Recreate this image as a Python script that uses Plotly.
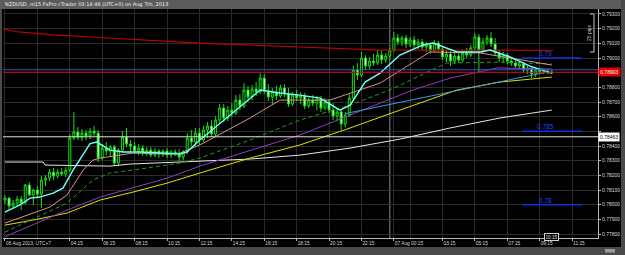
import plotly.graph_objects as go

# ---------------- data: NZDUSD m15 bars, index 0 = 06 Aug 00:15 (UTC+7) ----------------
open_ = [0.78032,0.78045,0.77991,0.78011,0.78038,0.78011,0.78134,0.78066,0.78100,0.78072,
         0.78168,0.78181,0.78222,0.78195,0.78222,0.78209,0.78236,0.78454,0.78495,0.78461,
         0.78488,0.78468,0.78502,0.78488,0.78318,0.78386,0.78366,0.78393,0.78284,0.78372,
         0.78461,0.78413,0.78400,0.78366,0.78386,0.78359,0.78372,0.78338,0.78366,0.78345,
         0.78366,0.78338,0.78359,0.78345,0.78325,0.78359,0.78454,0.78427,0.78488,0.78441,
         0.78509,0.78536,0.78482,0.78577,0.78659,0.78591,0.78645,0.78625,0.78713,0.78673,
         0.78782,0.78734,0.78788,0.78768,0.78863,0.78775,0.78734,0.78768,0.78741,0.78795,
         0.78754,0.78686,0.78747,0.78727,0.78741,0.78673,0.78713,0.78693,0.78720,0.78659,
         0.78700,0.78645,0.78604,0.78632,0.78550,0.78611,0.78727,0.78918,0.78884,0.79000,
         0.78945,0.78979,0.78966,0.79020,0.78986,0.79013,0.79054,0.79136,0.79109,0.79136,
         0.79095,0.79123,0.79089,0.79109,0.79075,0.79089,0.79054,0.79102,0.79061,0.79007,
         0.79027,0.78979,0.79013,0.78986,0.79034,0.79020,0.79068,0.79143,0.79054,0.79109,
         0.79136,0.79095,0.79034,0.79000,0.79020,0.78979,0.78966,0.78945,0.78959,0.78918,
         0.78932,0.78891,0.78918,0.78904,0.78911,0.78897]
high = [0.78066,0.78052,0.78032,0.78059,0.78059,0.78141,0.78154,0.78107,0.78127,0.78195,
        0.78202,0.78243,0.78250,0.78243,0.78250,0.78256,0.78482,0.78632,0.78529,0.78516,
        0.78509,0.78523,0.78536,0.78509,0.78413,0.78427,0.78407,0.78407,0.78386,0.78502,
        0.78523,0.78441,0.78427,0.78413,0.78407,0.78393,0.78393,0.78386,0.78379,0.78379,
        0.78386,0.78372,0.78379,0.78379,0.78372,0.78488,0.78509,0.78523,0.78523,0.78536,
        0.78563,0.78577,0.78604,0.78686,0.78686,0.78673,0.78693,0.78747,0.78754,0.78829,
        0.78809,0.78816,0.78836,0.78897,0.78891,0.78822,0.78795,0.78809,0.78816,0.78822,
        0.78795,0.78768,0.78782,0.78768,0.78761,0.78734,0.78747,0.78741,0.78741,0.78727,
        0.78720,0.78693,0.78659,0.78645,0.78632,0.78754,0.78945,0.78966,0.79041,0.79020,
        0.79007,0.79027,0.79054,0.79054,0.79034,0.79068,0.79177,0.79164,0.79150,0.79157,
        0.79143,0.79150,0.79130,0.79130,0.79109,0.79102,0.79123,0.79116,0.79082,0.79054,
        0.79047,0.79034,0.79041,0.79054,0.79068,0.79089,0.79170,0.79164,0.79136,0.79157,
        0.79177,0.79136,0.79054,0.79041,0.79034,0.79007,0.78993,0.78979,0.78972,0.78945,
        0.78945,0.78932,0.78932,0.78925,0.78925,0.78918]
low = [0.78004,0.77963,0.77977,0.77991,0.77963,0.78004,0.78059,0.77998,0.78045,0.77977,
       0.78127,0.78161,0.78168,0.78181,0.78195,0.78188,0.78222,0.78441,0.78441,0.78434,
       0.78441,0.78447,0.78468,0.78291,0.78304,0.78338,0.78325,0.78263,0.78263,0.78359,
       0.78393,0.78359,0.78345,0.78338,0.78332,0.78332,0.78325,0.78325,0.78318,0.78325,
       0.78318,0.78318,0.78332,0.78297,0.78304,0.78345,0.78400,0.78400,0.78407,0.78427,
       0.78454,0.78461,0.78468,0.78557,0.78563,0.78570,0.78598,0.78611,0.78645,0.78659,
       0.78700,0.78713,0.78741,0.78754,0.78754,0.78707,0.78686,0.78713,0.78727,0.78734,
       0.78666,0.78673,0.78707,0.78686,0.78652,0.78659,0.78673,0.78645,0.78632,0.78645,
       0.78625,0.78577,0.78570,0.78509,0.78529,0.78598,0.78707,0.78850,0.78870,0.78918,
       0.78925,0.78945,0.78952,0.78959,0.78966,0.78986,0.79041,0.79089,0.79082,0.79068,
       0.79075,0.79068,0.79061,0.79054,0.79041,0.79027,0.79041,0.79047,0.78986,0.78972,
       0.78945,0.78959,0.78966,0.78972,0.79000,0.79007,0.79054,0.78904,0.79034,0.79089,
       0.79075,0.79013,0.78972,0.78966,0.78959,0.78945,0.78932,0.78925,0.78904,0.78891,
       0.78863,0.78870,0.78891,0.78891,0.78891,0.78891]
close = [0.78045,0.77991,0.78011,0.78038,0.78011,0.78134,0.78066,0.78100,0.78072,0.78168,
         0.78181,0.78222,0.78195,0.78222,0.78209,0.78236,0.78454,0.78495,0.78461,0.78488,
         0.78468,0.78502,0.78488,0.78318,0.78386,0.78366,0.78393,0.78284,0.78372,0.78461,
         0.78413,0.78400,0.78366,0.78386,0.78359,0.78372,0.78338,0.78366,0.78345,0.78366,
         0.78338,0.78359,0.78345,0.78325,0.78359,0.78454,0.78427,0.78488,0.78441,0.78509,
         0.78536,0.78482,0.78577,0.78659,0.78591,0.78645,0.78625,0.78713,0.78673,0.78782,
         0.78734,0.78788,0.78768,0.78863,0.78775,0.78734,0.78768,0.78741,0.78795,0.78754,
         0.78686,0.78747,0.78727,0.78741,0.78673,0.78713,0.78693,0.78720,0.78659,0.78700,
         0.78645,0.78604,0.78632,0.78550,0.78611,0.78727,0.78918,0.78884,0.79000,0.78945,
         0.78979,0.78966,0.79020,0.78986,0.79013,0.79054,0.79136,0.79109,0.79136,0.79095,
         0.79123,0.79089,0.79109,0.79075,0.79089,0.79054,0.79102,0.79061,0.79007,0.79027,
         0.78979,0.79013,0.78986,0.79034,0.79020,0.79068,0.79143,0.79054,0.79109,0.79136,
         0.79095,0.79034,0.79000,0.79020,0.78979,0.78966,0.78945,0.78959,0.78918,0.78932,
         0.78891,0.78918,0.78904,0.78911,0.78897,0.78903]
bars = list(range(len(close)))

# moving averages, read at sample bars
cyan_x = [0, 3.7, 6.2, 8.6, 11.9, 14.3, 16.8, 21, 22.7, 25.9, 29.1, 33.3, 38.3, 43.2, 44.9,
          48.1, 55.6, 63, 67.9, 72.8, 77.8, 82.7, 85.2, 88.9, 92.6, 97.5, 103.2, 105.7, 111.6,
          117.3, 119.8, 124.7, 129.6, 133.8, 135]
cyan = [0.77950,0.77998,0.78045,0.78052,0.78079,0.78113,0.78236,0.78416,0.78427,0.78372,
        0.78359,0.78359,0.78352,0.78345,0.78359,0.78441,0.78611,0.78782,0.78761,0.78747,
        0.78727,0.78645,0.78679,0.78836,0.78897,0.79020,0.79089,0.79102,0.79041,0.79041,
        0.79054,0.79007,0.78945,0.78904,0.78897]
pink_x = [0, 6.9, 11.1, 15.3, 19.3, 21.7, 23.5, 31.6, 40, 43.2, 48.1, 60.5, 67.9, 80.2, 92.6,
          104.9, 117.3, 135]
pink = [0.77875,0.77943,0.77984,0.78066,0.78236,0.78304,0.78318,0.78352,0.78345,0.78352,
        0.78407,0.78591,0.78713,0.78713,0.78829,0.79041,0.79034,0.78952]
green_x = [0, 6.2, 15.3, 21.7, 25.9, 31.6, 36.5, 43.2, 48.1, 60.5, 72.8, 85.2, 95, 109, 122.2, 135]
green = [0.77813,0.77895,0.78011,0.78168,0.78216,0.78236,0.78256,0.78284,0.78318,0.78441,
         0.78577,0.78679,0.78782,0.78966,0.78972,0.78959]
purple_x = [0, 3.7, 15.3, 23.5, 31.6, 40, 48.1, 60.5, 72.8, 85.2, 100.7, 109.9, 121.5, 135]
purple = [0.77782,0.77827,0.77963,0.78052,0.78113,0.78181,0.78263,0.78372,0.78475,0.78611,
          0.78782,0.78863,0.78932,0.78925]
yellow_x = [0, 6.9, 15.3, 23.5, 31.6, 40, 48.1, 60.5, 72.8, 85.2, 97.5, 111.6, 122.2, 135]
yellow = [0.77861,0.77895,0.77943,0.78032,0.78086,0.78147,0.78216,0.78318,0.78407,0.78523,
          0.78645,0.78782,0.78836,0.78870]
white_x = [0, 9.4, 9.9, 25.9, 30.9, 48.1, 60.5, 72.8, 85.2, 97.5, 109.9, 122.2, 135]
white = [0.78291,0.78291,0.78270,0.78263,0.78277,0.78297,0.78311,0.78338,0.78386,0.78447,
         0.78523,0.78591,0.78645]
red_x = [-0.5, 3, 6.9, 11.9, 21, 31.6, 48.1, 72.8, 92.6, 121, 135.3]
red = [0.79198,0.79179,0.79170,0.79157,0.79143,0.79126,0.79102,0.79075,0.79054,0.79054,0.79051]
trend_x = [84, 133.8]
trend = [0.78621, 0.78904]

bid_price = 0.78903
ask_line = 0.78920
white_level = 0.78463
fib_levels = [0.79000, 0.78500, 0.78000]
fib_labels = ["0.79", "0.785", "0.78"]

price_ticks = [round(0.778 + 0.001 * k, 3) for k in range(16)]
price_text = ["" if v in (0.789, 0.785) else "%.5f" % v for v in price_ticks]
time_ticks = [0, 16, 24, 32, 40, 48, 56, 64, 72, 80, 88, 96, 108, 116, 124, 132, 140]
time_text = ["06 Aug 2013, UTC+7", "04:15", "06:15", "08:15", "10:15", "12:15", "14:15",
             "16:15", "18:15", "20:15", "22:15", "07 Aug 00:15", "03:15", "05:15",
             "07:15", "09:15", "11:15"]
minor_ticks = [8, 100]

# ---------------- figure ----------------
W, H = 625, 255
L, R, T, B = 3, 27, 9, 17
pw, ph = W - L - R, H - T - B
def px(x):
    return (x - L) / pw
def py(y):
    return (H - B - y) / ph

FONT = "Liberation Sans"
fig = go.Figure()

def line(x, y, color, dash="solid", width=1.0):
    fig.add_trace(go.Scatter(x=x, y=y, mode="lines", line=dict(color=color, width=width, dash=dash),
                             showlegend=False, hoverinfo="skip"))

line(red_x, red, "#c00000", width=1.2)
line(white_x, white, "#e6e6e6")
line(yellow_x, yellow, "#e0e000")
line(purple_x, purple, "#8b3fc0")
line(green_x, green, "#1ea01e", dash="4px,3px")
line(trend_x, trend, "#3b9be0")
line(pink_x, pink, "#d8918a")

fig.add_trace(go.Candlestick(
    x=bars, open=open_, high=high, low=low, close=close,
    increasing=dict(line=dict(color="#10e010", width=1), fillcolor="#000000"),
    decreasing=dict(line=dict(color="#10e010", width=1), fillcolor="#ffffff"),
    whiskerwidth=0, showlegend=False, hoverinfo="skip"))

line(cyan_x, cyan, "#70ffff", width=1.4)

shapes = []
shapes.append(dict(type="line", xref="x", x0=95, x1=95, yref="paper", y0=0, y1=1,
                   line=dict(color="#8a8a8a", width=1), layer="below"))
shapes.append(dict(type="line", xref="paper", x0=0, x1=1, yref="y", y0=ask_line, y1=ask_line,
                   line=dict(color="#1e5fd0", width=1.2)))
shapes.append(dict(type="line", xref="paper", x0=0, x1=1, yref="y", y0=bid_price, y1=bid_price,
                   line=dict(color="#e00000", width=1.2)))
shapes.append(dict(type="line", xref="paper", x0=0, x1=1, yref="y", y0=white_level, y1=white_level,
                   line=dict(color="#e0e0e0", width=1)))
for lv in fib_levels:
    shapes.append(dict(type="line", xref="x", x0=127.7, x1=142.5, yref="y", y0=lv, y1=lv,
                       line=dict(color="#1030e0", width=1.5)))
# pip ruler
shapes.append(dict(type="path", xref="paper", yref="paper",
                   path="M %f %f L %f %f L %f %f L %f %f" % (px(590), py(14), px(594), py(14),
                                                           px(594), py(52), px(590), py(52)),
                   line=dict(color="#c8c8c8", width=1)))
# frame
shapes.append(dict(type="rect", xref="paper", yref="paper", x0=px(0), x1=px(W), y0=py(0), y1=py(9),
                   fillcolor="#5c5c5c", line=dict(width=0), layer="above"))
shapes.append(dict(type="rect", xref="paper", yref="paper", x0=px(0), x1=px(W), y0=py(247), y1=py(H),
                   fillcolor="#4a4a4a", line=dict(width=0), layer="above"))
shapes.append(dict(type="rect", xref="paper", yref="paper", x0=px(621), x1=px(W), y0=py(0), y1=py(H),
                   fillcolor="#4a4a4a", line=dict(width=0), layer="above"))
shapes.append(dict(type="rect", xref="paper", yref="paper", x0=px(0), x1=px(2), y0=py(9), y1=py(H),
                   fillcolor="#4a4a4a", line=dict(width=0), layer="above"))
shapes.append(dict(type="rect", xref="paper", yref="paper", x0=px(605), x1=px(615), y0=py(249), y1=py(252.5),
                   fillcolor="#9a9a9a", line=dict(width=0), layer="above"))

ann = []
ann.append(dict(text="NZDUSD, m15 FxPro cTrader 03:14:46 (UTC+0) on Aug 7th, 2013",
                xref="paper", yref="paper", x=px(3), y=py(4.5), xanchor="left", yanchor="middle",
                showarrow=False, font=dict(size=5.0, color="#f0f0f0", family="DejaVu Sans")))
ann.append(dict(text="0.78903", xref="paper", yref="y", x=1.0, y=bid_price, xanchor="left",
                yanchor="middle", showarrow=False, bgcolor="#e80000",
                font=dict(size=5, color="#ffffff", family=FONT), borderpad=1.2))
ann.append(dict(text="0.78463", xref="paper", yref="y", x=1.0, y=white_level, xanchor="left",
                yanchor="middle", showarrow=False, bgcolor="#ffffff",
                font=dict(size=5, color="#000000", family=FONT), borderpad=1))
for lv, lab in zip(fib_levels, fib_labels):
    ann.append(dict(text=lab, xref="x", yref="y", x=133.5, y=lv, xanchor="center", yanchor="bottom",
                    showarrow=False, font=dict(size=6.5, color="#2040ff", family=FONT), yshift=-1))
ann.append(dict(text="25 pips", xref="paper", yref="paper", x=px(589), y=py(33), textangle=-90,
                xanchor="center", yanchor="middle", showarrow=False,
                font=dict(size=5, color="#c8c8c8", family=FONT)))
ann.append(dict(text="10:15", xref="x", yref="paper", x=135, y=py(236.5), xanchor="center",
                yanchor="middle", showarrow=False, bgcolor="#000000", bordercolor="#d0d0d0",
                borderwidth=1, borderpad=0.5, font=dict(size=4.6, color="#e0e0e0", family=FONT)))

fig.update_layout(
    width=W, height=H, margin=dict(l=L, r=R, t=T, b=B, pad=0),
    paper_bgcolor="#000000", plot_bgcolor="#000000",
    shapes=shapes, annotations=ann,
    xaxis=dict(range=[-0.49, 146.4], tickvals=time_ticks, ticktext=time_text, tickangle=0,
               ticklabelposition="outside right",
               showgrid=True, gridcolor="#2b2b2b", gridwidth=1, zeroline=False,
               minor=dict(tickvals=minor_ticks, showgrid=True, gridcolor="#2b2b2b"),
               showline=True, linecolor="#b8b8b8", ticks="outside", ticklen=2, tickcolor="#b8b8b8",
               tickfont=dict(size=4.8, color="#d8d8d8", family=FONT),
               rangeslider=dict(visible=False), fixedrange=True),
    yaxis=dict(range=[0.77773, 0.79334], side="right", tickvals=price_ticks, ticktext=price_text,
               showgrid=True, gridcolor="#2b2b2b", zeroline=False,
               showline=True, linecolor="#b8b8b8", ticks="outside", ticklen=2, tickcolor="#b8b8b8",
               tickfont=dict(size=5, color="#d8d8d8", family=FONT)),
)
fig.write_html("out.html")
